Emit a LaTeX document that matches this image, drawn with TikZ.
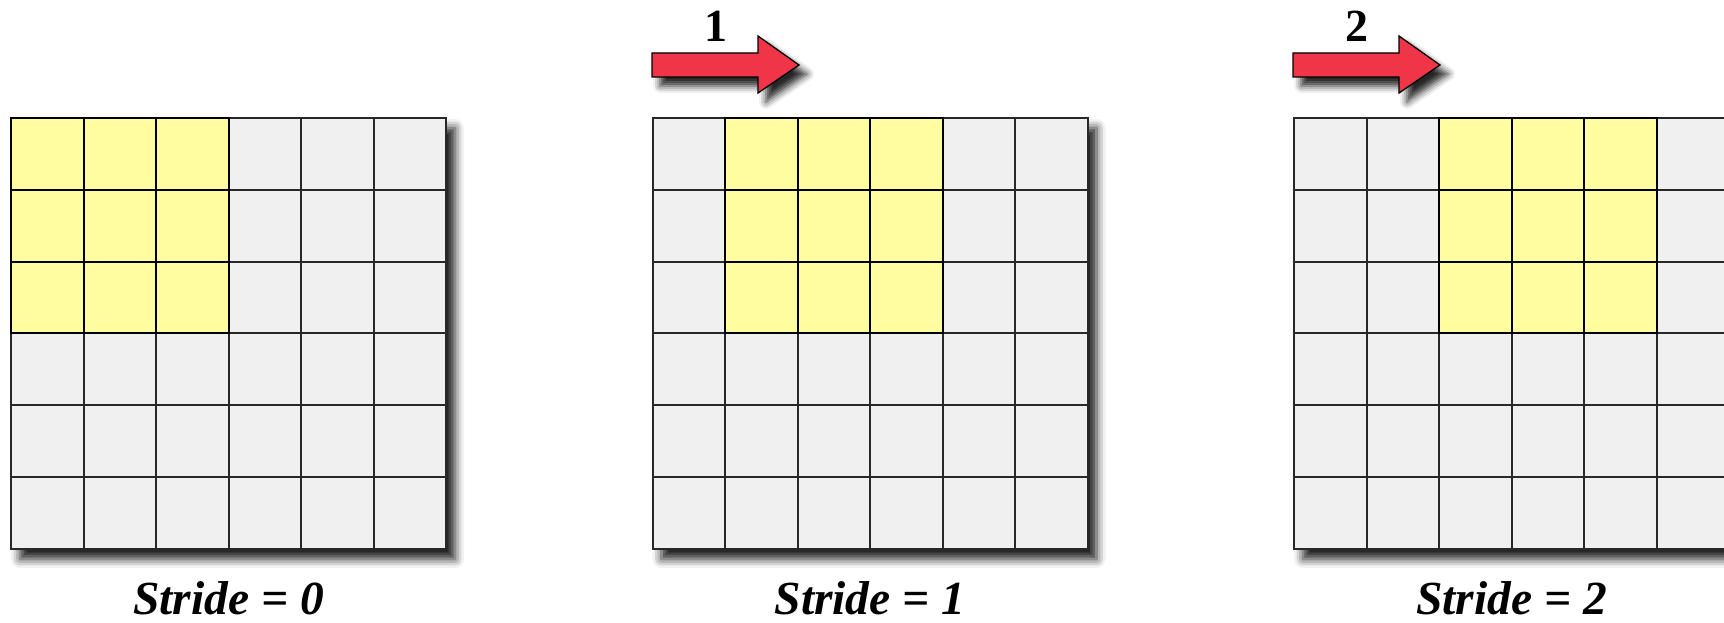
\documentclass[tikz,border=0pt]{standalone}
\usepackage{fontspec}
\setmainfont{Liberation Serif}
\usetikzlibrary{shadows.blur}
\definecolor{cellgray}{RGB}{240,240,240}
\definecolor{cellyellow}{RGB}{255,253,160}
\definecolor{gridline}{RGB}{40,40,40}
\definecolor{arrowred}{RGB}{241,53,72}

\begin{document}
\begin{tikzpicture}[x=1pt,y=-1pt,line join=miter,
  cellbox/.style={fill=cellgray,draw=gridline,line width=2pt},
  hotbox/.style={cellbox,fill=cellyellow,draw=black},
  gridshadow/.style={blur shadow={shadow xshift=9pt,shadow yshift=-10pt,shadow blur radius=9pt,shadow opacity=90}},
  movearrow/.style={fill=arrowred,draw=black,line width=1.3pt,
    blur shadow={shadow xshift=8pt,shadow yshift=-9pt,shadow blur radius=7pt,shadow opacity=85}},
  steplabel/.style={anchor=base,font=\fontsize{46}{50}\selectfont\bfseries},
  stridelabel/.style={anchor=base,font=\fontsize{47.5}{52}\selectfont\bfseries\itshape}]
\useasboundingbox (0,0) rectangle (1724,623);

% the three 6x6 inputs, the 3x3 window moves by k cells
\foreach \k in {0,1,2}{
  \pgfmathsetmacro{\gx}{11+641.5*\k}
  \begin{scope}[shift={(\gx,118)}]
    \fill[white,gridshadow] (0,0) rectangle (435,431);
    \foreach \c in {0,...,5}
      \foreach \r in {0,...,5}
        \draw[cellbox] ({\c*72.5},{\r*71.83}) rectangle ++(72.5,71.83);
    \foreach \c in {0,1,2}
      \foreach \r in {0,1,2}
        \draw[hotbox] ({(\c+\k)*72.5},{\r*71.83}) rectangle ++(72.5,71.83);
  \end{scope}
}

% shift arrows
\foreach \ax in {652,1293}{
  \draw[movearrow] (\ax,53) -- ++(106,0) -- ++(0,-17) -- ++(41,29)
    -- ++(-41,28) -- ++(0,-16) -- ++(-106,0) -- cycle;
}
\node[steplabel] (shiftone) at (716,42) {1};
\node[steplabel] (shifttwo) at (1357,42) {2};

% captions
\node[stridelabel] (stridezero) at (228.5,614) {Stride = 0};
\node[stridelabel] (strideone) at (870,614) {Stride = 1};
\node[stridelabel] (stridetwo) at (1511.5,614) {Stride = 2};
\end{tikzpicture}
\end{document}
